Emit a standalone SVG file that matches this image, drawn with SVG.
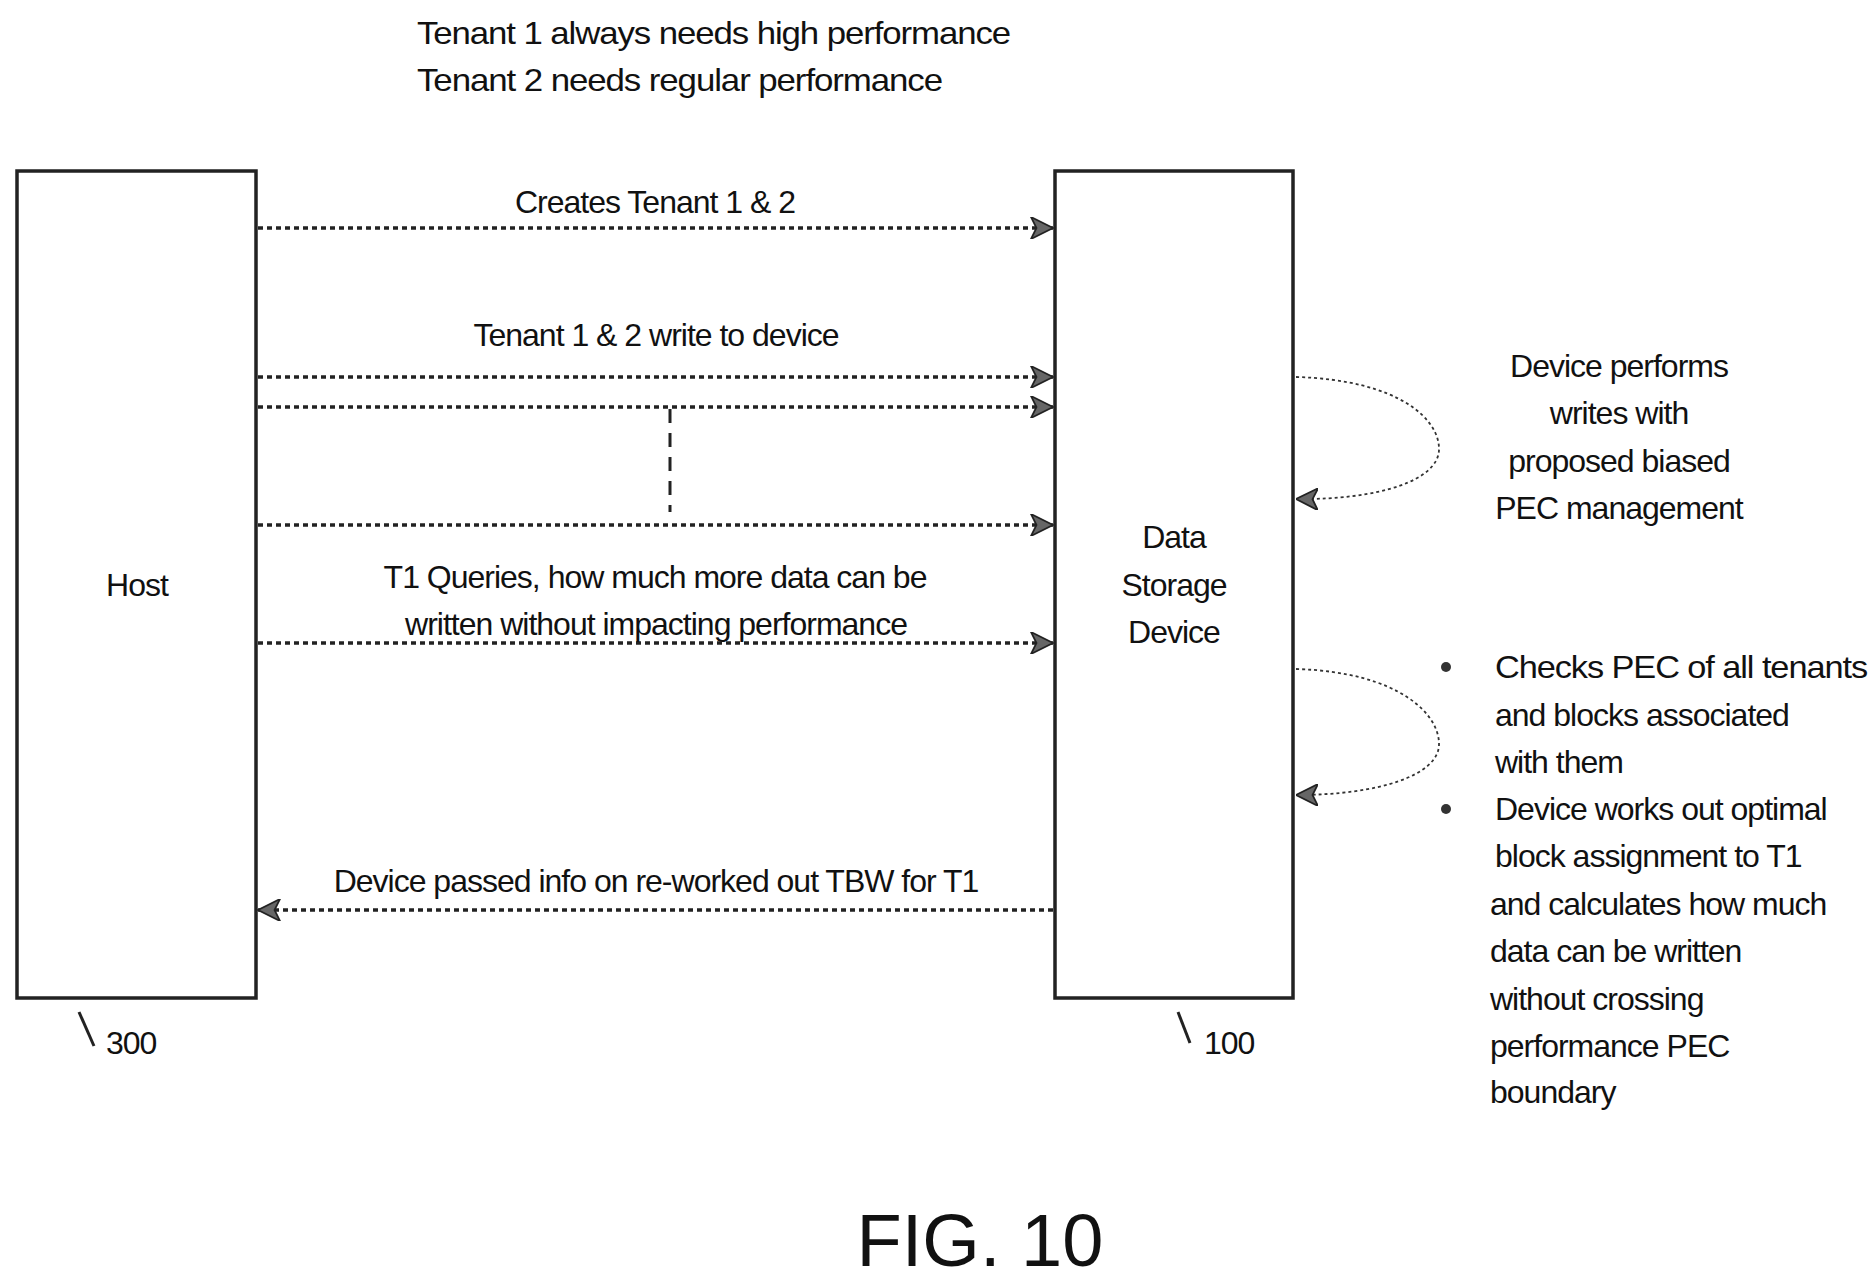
<svg xmlns="http://www.w3.org/2000/svg" width="1875" height="1283" viewBox="0 0 1875 1283">
<style>
text{font-family:"Liberation Sans",Arial,sans-serif;font-size:32px;letter-spacing:-1px;fill:#111}
.box{fill:#fff;stroke:#222;stroke-width:3.5}
.arr{fill:none;stroke:#222;stroke-width:3.5;stroke-dasharray:5 4;marker-end:url(#ah)}
.loop{fill:none;stroke:#333;stroke-width:1.8;stroke-dasharray:3 3;marker-end:url(#ah2)}
.mid{text-anchor:middle}
</style>
<defs>
<marker id="ah" viewBox="0 0 10 10" refX="10" refY="5" markerWidth="24" markerHeight="22" markerUnits="userSpaceOnUse" orient="auto"><path d="M0,0 L10,5 L0,10 L2.5,5 Z" fill="#666" stroke="#222" stroke-width="0.8"/></marker>
<marker id="ah2" viewBox="0 0 10 10" refX="10" refY="5" markerWidth="22" markerHeight="22" markerUnits="userSpaceOnUse" orient="auto"><path d="M0,0 L10,5 L0,10 L2.5,5 Z" fill="#666" stroke="#222" stroke-width="0.8"/></marker>
</defs>
<text x="417" y="44" textLength="593" lengthAdjust="spacingAndGlyphs">Tenant 1 always needs high performance</text>
<text x="417" y="91" textLength="525" lengthAdjust="spacingAndGlyphs">Tenant 2 needs regular performance</text>
<g id="host"><rect class="box" x="17" y="171" width="239" height="827"/><text class="mid" x="137" y="596">Host</text></g>
<g id="device"><rect class="box" x="1055" y="171" width="238" height="827"/><text class="mid" x="1174" y="548">Data</text><text class="mid" x="1174" y="596">Storage</text><text class="mid" x="1174" y="643">Device</text></g>
<g id="ref300"><path d="M79,1012 L94,1046" stroke="#222" stroke-width="3"/><text x="106" y="1054">300</text></g>
<g id="ref100"><path d="M1178,1012 L1190,1043" stroke="#222" stroke-width="3"/><text x="1204" y="1054">100</text></g>
<g id="connectors">
<path class="arr" d="M258,228 H1053"/>
<path class="arr" d="M258,377 H1053"/>
<path class="arr" d="M258,407 H1053"/>
<path d="M670,409 V512" stroke="#222" stroke-width="3" stroke-dasharray="14 10"/>
<path class="arr" d="M258,525 H1053"/>
<path class="arr" d="M258,643 H1053"/>
<path class="arr" d="M1053,910 H258"/>
<path class="loop" d="M1296,377 C1400,380 1440,420 1439,450 C1438,480 1380,500 1296,499"/>
<path class="loop" d="M1296,669 C1400,672 1440,715 1439,745 C1438,775 1380,795 1296,795"/>
</g>
<text class="mid" x="655" y="213">Creates Tenant 1 &amp; 2</text>
<text class="mid" x="656" y="346">Tenant 1 &amp; 2 write to device</text>
<text class="mid" x="655" y="588">T1 Queries, how much more data can be</text>
<text class="mid" x="656" y="635">written without impacting performance</text>
<text class="mid" x="656" y="892">Device passed info on re-worked out TBW for T1</text>
<g id="note1">
<text class="mid" x="1619" y="377">Device performs</text>
<text class="mid" x="1619" y="424">writes with</text>
<text class="mid" x="1619" y="472">proposed biased</text>
<text class="mid" x="1619" y="519">PEC management</text>
</g>
<g id="note2">
<circle cx="1446" cy="667" r="5" fill="#333"/>
<circle cx="1446" cy="809" r="5" fill="#333"/>
<text x="1495" y="678" textLength="372" lengthAdjust="spacingAndGlyphs">Checks PEC of all tenants</text>
<text x="1495" y="726">and blocks associated</text>
<text x="1495" y="773">with them</text>
<text x="1495" y="820">Device works out optimal</text>
<text x="1495" y="867">block assignment to T1</text>
<text x="1490" y="915">and calculates how much</text>
<text x="1490" y="962">data can be written</text>
<text x="1490" y="1010">without crossing</text>
<text x="1490" y="1057">performance PEC</text>
<text x="1490" y="1103">boundary</text>
</g>
<text class="mid" x="980" y="1266" style="font-size:74px;letter-spacing:0">FIG. 10</text>
</svg>
